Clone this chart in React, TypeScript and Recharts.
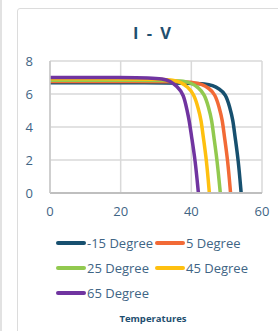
import React from 'react';
import { LineChart, Line, XAxis, YAxis, CartesianGrid, Legend } from 'recharts';

const xTicks = [0, 20, 40, 60];
const yTicks = [0, 2, 4, 6, 8];

const seriesNames = ['-15 Degree', '5 Degree', '25 Degree', '45 Degree', '65 Degree'];
const seriesColors = ['#17506f', '#f26a36', '#92c94f', '#fec00f', '#7034a0'];

const vM15 = [0, 30, 40, 44, 46, 48, 49.7, 50.9, 51.8, 52.3, 53.3, 54.1];
const iM15 = [6.68, 6.68, 6.66, 6.62, 6.53, 6.3, 6.0, 5.2, 4.4, 3.5, 2.0, 0];
const v5 = [0, 28, 37, 41, 43, 45, 46.7, 47.9, 48.8, 49.3, 50.3, 51.1];
const i5 = [6.76, 6.76, 6.74, 6.7, 6.6, 6.35, 6.0, 5.2, 4.4, 3.5, 2.0, 0];
const v25 = [0, 26, 34, 38, 40, 42, 43.7, 44.9, 45.8, 46.3, 47.3, 48.2];
const i25 = [6.84, 6.84, 6.82, 6.78, 6.66, 6.4, 6.0, 5.2, 4.4, 3.5, 2.0, 0];
const v45 = [0, 24, 31, 35, 37, 39, 40.7, 41.9, 42.8, 43.3, 44.3, 45.1];
const i45 = [6.92, 6.92, 6.9, 6.85, 6.72, 6.43, 6.0, 5.2, 4.4, 3.5, 2.0, 0];
const v65 = [0, 22, 28, 32, 34, 36, 37.8, 38.8, 39.4, 40.0, 41.1, 42.0];
const i65 = [7.0, 7.0, 6.98, 6.92, 6.8, 6.45, 6.0, 5.0, 4.4, 3.5, 2.0, 0];

const seriesV = [vM15, v5, v25, v45, v65];
const seriesI = [iM15, i5, i25, i45, i65];

const seriesData = seriesV.map((vs, s) => vs.map((v, k) => ({ v, i: seriesI[s][k] })));

const textColor = '#3f6585';
const font = '"Open Sans", sans-serif';

const LegendContent = () => (
  <div style={{ display: 'flex', flexWrap: 'wrap', width: 230, fontFamily: font }}>
    {seriesNames.map((n, k) => (
      <div key={n} style={{ display: 'flex', alignItems: 'center', height: 25, width: k % 2 === 0 ? 99 : 110 }}>
        <svg width={30} height={6} style={{ marginRight: 1 }}>
          <line x1={2} y1={3} x2={28} y2={3} stroke={seriesColors[k]} strokeWidth={4} strokeLinecap="round" />
        </svg>
        <span style={{ fontSize: 13, color: textColor, whiteSpace: 'nowrap' }}>{n}</span>
      </div>
    ))}
  </div>
);

export default function App() {
  return (
    <div style={{ position: 'fixed', left: 0, top: 0, width: 278, height: 331, background: '#fff', overflow: 'hidden' }}>
      <div style={{ position: 'absolute', left: 0, top: 0, width: 2, height: 331, background: '#e2e2e2' }} />
      <div style={{ position: 'absolute', left: 17, top: 8, width: 300, height: 400, border: '1.5px solid #dcdcdc', borderRadius: 3 }} />
      <div style={{ position: 'absolute', left: 0, top: 21, width: 306, textAlign: 'center', fontFamily: font, fontWeight: 700, fontSize: 16.5, color: '#1f4f70', letterSpacing: 2 }}>
        I - V
      </div>
      <div style={{ position: 'absolute', left: 0, top: 312, width: 306, textAlign: 'center', fontFamily: font, fontWeight: 700, fontSize: 9.5, color: '#1f4f70' }}>
        Temperatures
      </div>
      <div style={{ position: 'absolute', left: 0, top: 0 }}>
        <LineChart width={278} height={331} margin={{ top: 61, right: 16, left: 0, bottom: 108 }}>
          <CartesianGrid stroke="#d9d9d9" strokeWidth={1.5} />
          <XAxis
            type="number"
            dataKey="v"
            domain={[0, 60]}
            ticks={xTicks}
            axisLine={{ stroke: '#bfbfbf', strokeWidth: 2 }}
            tickLine={false}
            tickSize={0}
            tickMargin={14}
            height={30}
            tick={{ fill: textColor, fontSize: 13, fontFamily: font }}
          />
          <YAxis
            type="number"
            domain={[0, 8]}
            ticks={yTicks}
            width={50}
            axisLine={{ stroke: '#c8c8c8', strokeWidth: 1.5 }}
            tickLine={false}
            tickSize={0}
            tickMargin={17}
            tick={{ fill: textColor, fontSize: 13, fontFamily: font }}
          />
          <Legend
            layout="vertical"
            align="center"
            verticalAlign="middle"
            wrapperStyle={{ left: 56, top: 230, width: 230 }}
            content={<LegendContent />}
          />
          {seriesNames.map((n, k) => (
            <Line
              key={n}
              name={n}
              data={seriesData[k]}
              dataKey="i"
              type="basis"
              stroke={seriesColors[k]}
              strokeWidth={3.5}
              dot={false}
              activeDot={false}
              isAnimationActive={false}
            />
          ))}
        </LineChart>
      </div>
    </div>
  );
}
